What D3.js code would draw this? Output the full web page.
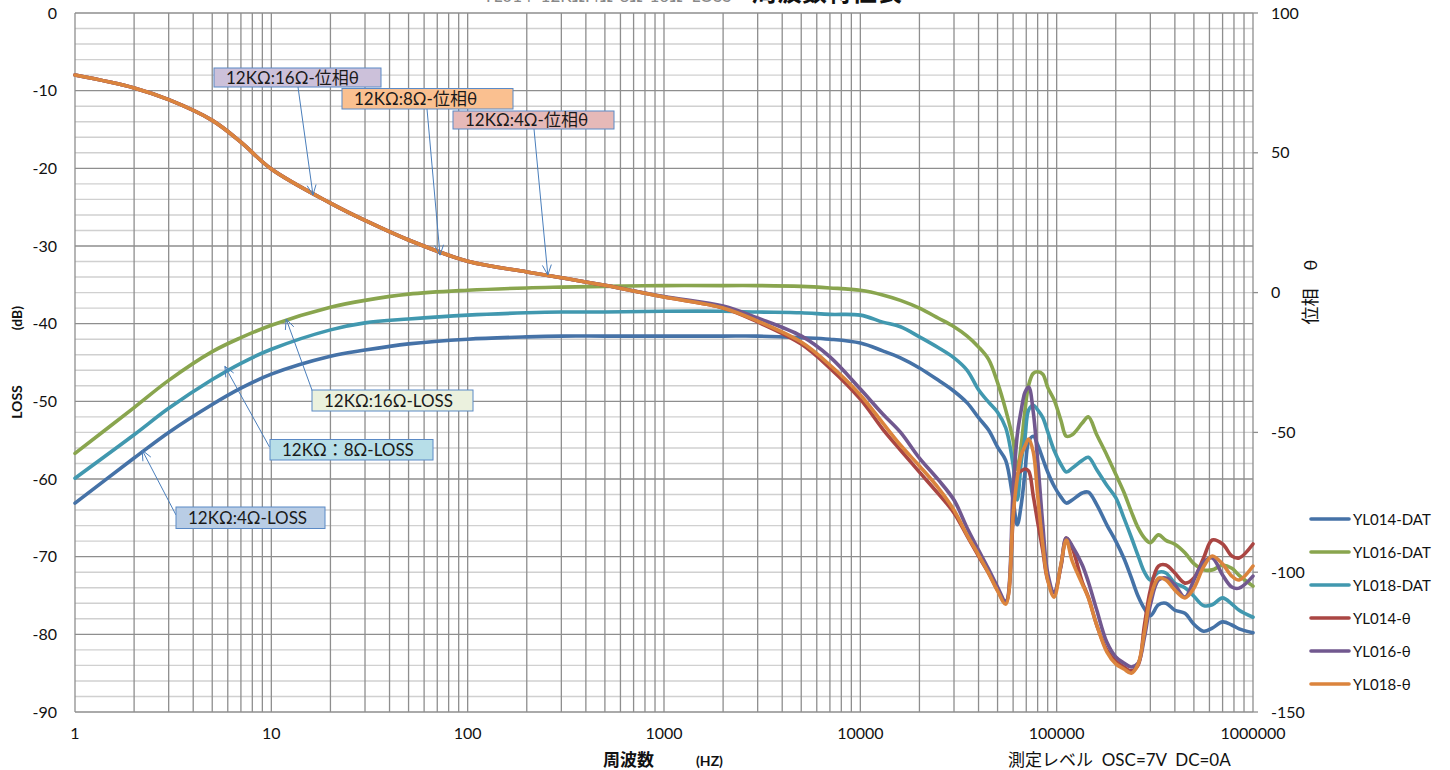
<!DOCTYPE html>
<html><head><meta charset="utf-8">
<script src="https://cdn.jsdelivr.net/npm/d3@7"></script>
<style>
html,body{margin:0;padding:0;background:#fff;}
svg{display:block;}
text{font-family:Lato,"Noto Sans","Noto Sans CJK JP",sans-serif;}
</style></head><body>
<svg id="c" width="1450" height="770"></svg>
<script>
// ---------- data ----------
const freqs = [1,2,3,5,7,10,20,30,50,100,200,300,500,1000,2000,3000,5000,7000,
  10000,13000,16000,20000,25000,30000,35000,40000,45000,50000,
  55000,60000,63000,66000,69000,72000,76000,80000,85000,90000,
  97000,105000,112000,120000,135000,145000,160000,180000,200000,220000,
  240000,260000,280000,300000,330000,360000,400000,450000,500000,560000,
  620000,700000,780000,850000,1000000];

const lossYL014 = [-63.1,-57.3,-54.0,-50.4,-48.3,-46.5,-44.2,-43.4,-42.6,-42.0,-41.7,-41.6,-41.6,-41.6,-41.6,-41.6,-41.8,-42.0,
  -42.5,-43.5,-44.4,-45.7,-47.3,-48.7,-50.2,-52.1,-53.7,-55.9,
  -57.6,-62.7,-65.9,-63.3,-59.1,-55.2,-54.5,-55.6,-57.4,-59.1,
  -60.9,-62.3,-63.1,-62.7,-61.8,-61.7,-63.3,-65.9,-68.0,-70.2,
  -72.7,-75.1,-76.7,-77.6,-76.2,-76.0,-76.9,-77.3,-78.7,-79.6,
  -79.2,-78.4,-78.8,-79.3,-79.8];
const lossYL016 = [-56.7,-50.8,-47.3,-43.6,-41.8,-40.2,-37.9,-37.0,-36.2,-35.7,-35.4,-35.3,-35.2,-35.1,-35.1,-35.1,-35.2,-35.4,
  -35.7,-36.3,-37.0,-38.0,-39.3,-40.4,-41.6,-43.0,-44.6,-47.6,
  -51.1,-55.0,-58.8,-55.6,-51.1,-47.9,-46.4,-46.2,-46.5,-48.2,
  -49.8,-52.4,-54.5,-54.3,-52.8,-52.0,-54.3,-56.9,-59.4,-61.7,
  -64.2,-66.3,-67.6,-68.2,-67.2,-67.9,-68.4,-69.5,-70.9,-71.7,
  -71.7,-71.1,-71.5,-72.4,-73.8];
const lossYL018 = [-59.9,-54.3,-50.9,-47.2,-45.1,-43.3,-40.8,-39.9,-39.4,-38.9,-38.6,-38.5,-38.5,-38.4,-38.4,-38.5,-38.6,-38.8,
  -38.9,-39.8,-40.4,-41.7,-43.1,-44.4,-46.0,-48.5,-50.1,-51.4,
  -53.4,-58.2,-62.7,-57.8,-54.6,-51.1,-50.5,-51.1,-52.1,-53.9,
  -56.3,-58.1,-59.1,-58.6,-57.6,-57.2,-58.8,-60.8,-62.4,-65.0,
  -67.5,-69.9,-72.0,-73.0,-72.0,-72.1,-73.4,-74.0,-75.1,-76.3,
  -76.2,-75.3,-76.1,-76.9,-77.8];

const thetaYL014 = [77.8,73.2,69.0,61.6,53.8,44.2,32.0,25.8,18.8,11.2,7.4,5.3,2.6,-1.6,-5.5,-10.5,-18.4,-27.0,
  -38.1,-48.8,-56.3,-64.2,-72.0,-78.8,-87.1,-94.2,-100.3,-106.4,
  -111.0,-81.3,-64.9,-63.8,-63.1,-63.8,-72.7,-82.0,-92.4,-102.8,
  -107.4,-98.1,-87.8,-91.3,-103.5,-108.9,-118.9,-127.8,-131.8,-133.9,
  -135.3,-133.2,-118.9,-106.4,-97.8,-97.4,-100.3,-103.9,-102.1,-94.9,
  -88.5,-89.9,-94.2,-94.9,-89.9];
const thetaYL016 = [77.8,73.2,69.0,61.6,53.8,44.2,32.0,25.8,18.8,11.2,7.4,5.3,2.6,-1.4,-4.8,-9.1,-15.5,-23.0,
  -34.5,-43.4,-49.9,-59.2,-67.0,-74.2,-84.2,-92.1,-98.9,-105.3,
  -110.3,-70.6,-50.9,-42.0,-35.6,-33.8,-42.7,-59.9,-83.1,-100.3,
  -107.1,-97.8,-87.8,-90.6,-97.4,-103.5,-113.5,-125.0,-130.3,-132.5,
  -133.9,-132.5,-123.2,-111.7,-102.8,-102.1,-104.6,-108.9,-102.8,-96.4,
  -94.9,-101.0,-105.3,-105.7,-101.4];
const thetaYL018 = [77.8,73.2,69.0,61.6,53.8,44.2,32.0,25.8,18.8,11.2,7.4,5.3,2.6,-1.6,-5.5,-10.2,-17.7,-25.9,
  -36.6,-46.6,-54.5,-62.0,-69.9,-77.8,-86.7,-93.8,-100.3,-106.7,
  -111.4,-79.5,-66.3,-58.1,-54.9,-52.4,-57.0,-72.4,-90.3,-102.8,
  -108.9,-97.4,-88.5,-96.0,-104.2,-109.2,-118.9,-128.5,-132.8,-134.6,
  -136.1,-132.8,-121.4,-109.2,-102.1,-102.8,-106.4,-109.2,-105.7,-98.1,
  -94.2,-97.1,-101.4,-102.8,-97.8];

const seriesNames = ["YL014-DAT","YL016-DAT","YL018-DAT","YL014-θ","YL016-θ","YL018-θ"];
const seriesColors = ["#4572A7","#89A54E","#4198AF","#AA4643","#71588F","#DB843D"];
const xTickValues = [1,10,100,1000,10000,100000,1000000];
const xTickLabels = ["1","10","100","1000","10000","100000","1000000"];
const leftTicks = [-90,-80,-70,-60,-50,-40,-30,-20,-10,0];
const rightTicks = [-150,-100,-50,0,50,100];

// callout labels: text, target frequency, target value, axis
const noteTexts = ["12KΩ:16Ω-位相θ","12KΩ:8Ω-位相θ","12KΩ:4Ω-位相θ","12KΩ:16Ω-LOSS","12KΩ：8Ω-LOSS","12KΩ:4Ω-LOSS"];
const noteFreq = [16.3, 72.3, 256, 11.9, 5.8, 2.2];
const noteValue = [34.9, 13.4, 6.3, -39.4, -45.5, -56.3];
const noteAxis = ["R","R","R","L","L","L"];

// ---------- layout ----------
const P = {l:75, r:1253, t:13, b:712};
const x = d3.scaleLog().domain([1,1e6]).range([P.l,P.r]);
const yL = d3.scaleLinear().domain([-90,0]).range([P.b,P.t]);
const yR = d3.scaleLinear().domain([-150,100]).range([P.b,P.t]);
const svg = d3.select("#c");

// gridlines
const grid = svg.append("g");
const minorH = d3.range(-90,0.01,2).filter(v=>v%10!==0);
grid.selectAll("line.hmin").data(minorH).join("line").attr("class","hmin")
  .attr("x1",P.l).attr("x2",P.r).attr("y1",d=>yL(d)).attr("y2",d=>yL(d))
  .attr("stroke","#d0d0d0").attr("stroke-width",1.4);
const vt=[]; for(let k=0;k<6;k++) for(let m=1;m<10;m++) vt.push(m*Math.pow(10,k)); vt.push(1e6);
grid.selectAll("line.v").data(vt).join("line").attr("class","v")
  .attr("x1",d=>x(d)).attr("x2",d=>x(d)).attr("y1",P.t).attr("y2",P.b)
  .attr("stroke","#8e8e8e").attr("stroke-width",1.3);
grid.selectAll("line.hmaj").data(leftTicks).join("line").attr("class","hmaj")
  .attr("x1",P.l).attr("x2",P.r).attr("y1",d=>yL(d)).attr("y2",d=>yL(d))
  .attr("stroke","#8e8e8e").attr("stroke-width",1.3);
grid.selectAll("line.rt").data(rightTicks).join("line")
  .attr("x1",P.r).attr("x2",P.r+5).attr("y1",d=>yR(d)).attr("y2",d=>yR(d))
  .attr("stroke","#8e8e8e").attr("stroke-width",1.3);

// tick labels
const tl = svg.append("g").attr("font-size",16).attr("fill","#111");
tl.selectAll("text.xl").data(xTickValues).join("text")
  .attr("x",d=>x(d)).attr("y",739).attr("text-anchor","middle").text((d,i)=>xTickLabels[i]);
tl.selectAll("text.yl").data(leftTicks).join("text")
  .attr("x",57).attr("y",d=>yL(d)+5.5).attr("text-anchor","end").text(d=>d);
tl.selectAll("text.yr").data(rightTicks).join("text")
  .attr("x",1271).attr("y",d=>yR(d)+5.5).attr("text-anchor","start").text(d=>d);

// series
const lossSets = [lossYL014,lossYL016,lossYL018];
const thetaSets = [thetaYL014,thetaYL016,thetaYL018];
const curve = d3.curveCatmullRom.alpha(0.5);
const lineL = d3.line().x((d,i)=>x(freqs[i])).y(d=>yL(d)).curve(curve);
const lineR = d3.line().x((d,i)=>x(freqs[i])).y(d=>yR(d)).curve(curve);
const sg = svg.append("g").attr("fill","none").attr("stroke-width",3.6)
  .attr("stroke-linejoin","round").attr("stroke-linecap","round");
lossSets.forEach((s,i)=>sg.append("path").attr("d",lineL(s)).attr("stroke",seriesColors[i]));
thetaSets.forEach((s,i)=>sg.append("path").attr("d",lineR(s)).attr("stroke",seriesColors[i+3]));

// callouts
const boxes = [
  {x:214,y:68,w:167,h:19,fill:"#CCC1DA",sx:298,sy:87},
  {x:342,y:88.5,w:171,h:20.5,fill:"#FAC090",sx:427,sy:109},
  {x:453,y:111,w:161,h:18,fill:"#E6B9B8",sx:534,sy:129},
  {x:312,y:390,w:161,h:21,fill:"#EBF1DE",sx:312.5,sy:391.5},
  {x:270,y:439.5,w:163,h:20.5,fill:"#B7DEE8",sx:269.5,sy:447},
  {x:176,y:507,w:149,h:21.5,fill:"#B9CDE5",sx:176,sy:515}
];
const ng = svg.append("g");
boxes.forEach((b,i)=>{
  const tx = x(noteFreq[i]);
  const ty = noteAxis[i]==="R" ? yR(noteValue[i]) : yL(noteValue[i]);
  ng.append("line").attr("x1",b.sx).attr("y1",b.sy).attr("x2",tx).attr("y2",ty)
    .attr("stroke","#4a7ebb").attr("stroke-width",1);
  const a = Math.atan2(ty-b.sy, tx-b.sx);
  const L=11, s=0.42;
  [a+Math.PI-s, a+Math.PI+s].forEach(ang=>{
    ng.append("line").attr("x1",tx).attr("y1",ty)
      .attr("x2",tx+L*Math.cos(ang)).attr("y2",ty+L*Math.sin(ang))
      .attr("stroke","#4a7ebb").attr("stroke-width",1);
  });
  ng.append("rect").attr("x",b.x).attr("y",b.y).attr("width",b.w).attr("height",b.h)
    .attr("fill",b.fill).attr("stroke","#5b8ac6").attr("stroke-width",1);
  ng.append("text").attr("x",b.x+12).attr("y",b.y+b.h/2+6).attr("font-size",17)
    .attr("fill","#1a1a1a").text(noteTexts[i]);
});

// legend
const lg = svg.append("g");
const legY = [519,552,585,618,651,684];
seriesNames.forEach((n,i)=>{
  lg.append("line").attr("x1",1311).attr("x2",1349).attr("y1",legY[i]).attr("y2",legY[i])
    .attr("stroke",seriesColors[i]).attr("stroke-width",3.6).attr("stroke-linecap","round");
  lg.append("text").attr("x",1353).attr("y",legY[i]+5.5).attr("font-size",15).attr("fill","#111").text(n);
});

// axis titles
svg.append("text").attr("transform","translate(22,402) rotate(-90)").attr("text-anchor","middle")
  .attr("font-size",14).attr("font-weight","bold").attr("fill","#111").text("LOSS");
svg.append("text").attr("transform","translate(22,318) rotate(-90)").attr("text-anchor","middle")
  .attr("font-size",14).attr("font-weight","bold").attr("fill","#111").text("(dB)");
svg.append("text").attr("transform","translate(1317,292) rotate(-90)").attr("text-anchor","middle")
  .attr("font-size",18).attr("fill","#111").text("位相　θ");
svg.append("text").attr("x",603).attr("y",766).attr("font-size",17).attr("font-weight","bold")
  .attr("fill","#111").text("周波数");
svg.append("text").attr("x",696).attr("y",766).attr("font-size",14).attr("font-weight","bold")
  .attr("fill","#111").text("(HZ)");
svg.append("text").attr("x",1008).attr("y",766).attr("font-size",17).attr("fill","#111")
  .attr("xml:space","preserve").text("測定レベル  OSC=7V  DC=0A");

// title (cut off at top edge, as in the reference): one text, two styled parts
const title = svg.append("text").attr("x",483).attr("y",2).attr("xml:space","preserve");
title.append("tspan").attr("font-size",17).attr("fill","#888").text("YL014  12KΩ:4Ω-8Ω-16Ω  LOSS  ");
title.append("tspan").attr("x",752).attr("dy",-1.5).attr("font-size",25).attr("font-weight","bold")
  .attr("fill","#111").text("周波数特性表");
</script>
</body></html>
